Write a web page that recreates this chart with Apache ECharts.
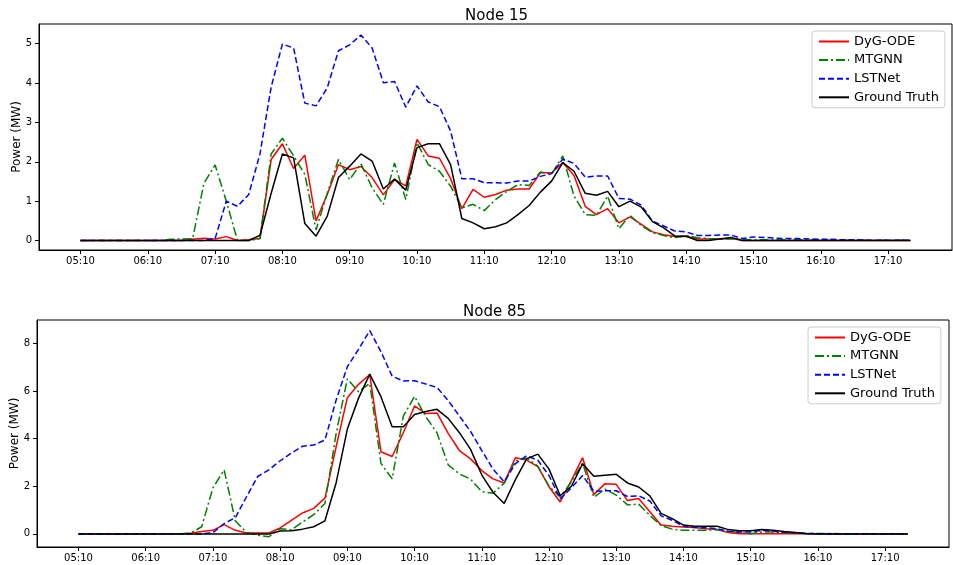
<!DOCTYPE html>
<html>
<head>
<meta charset="utf-8">
<title>Node power forecast</title>
<script src="https://cdn.jsdelivr.net/npm/echarts@6/dist/echarts.min.js"></script>
<style>
  html, body { margin: 0; padding: 0; background: #fff; }
  #chart { width: 953px; height: 565px; }
</style>
</head>
<body>
<div id="chart"></div>
<script>
// time axis, one point every 10 minutes
const times = [
  '05:10','05:20','05:30','05:40','05:50','06:00','06:10','06:20','06:30','06:40',
  '06:50','07:00','07:10','07:20','07:30','07:40','07:50','08:00','08:10','08:20',
  '08:30','08:40','08:50','09:00','09:10','09:20','09:30','09:40','09:50','10:00',
  '10:10','10:20','10:30','10:40','10:50','11:00','11:10','11:20','11:30','11:40',
  '11:50','12:00','12:10','12:20','12:30','12:40','12:50','13:00','13:10','13:20',
  '13:30','13:40','13:50','14:00','14:10','14:20','14:30','14:40','14:50','15:00',
  '15:10','15:20','15:30','15:40','15:50','16:00','16:10','16:20','16:30','16:40',
  '16:50','17:00','17:10','17:20','17:30'
]
// positions (index into times) that get a tick label
const tickIdx = [0, 6, 12, 18, 24, 30, 36, 42, 48, 54, 60, 66, 72]

const seriesNames = ['DyG-ODE', 'MTGNN', 'LSTNet', 'Ground Truth']

// Node 15
const node15DyG = [
  0, 0, 0, 0, 0, 0, 0, 0, 0, 0,
  0.03, 0.06, 0.04, 0.1, 0.0, 0.02, 0.05,
  2.06, 2.46, 1.83, 2.17, 0.5, 1.17, 1.93, 1.8, 1.88, 1.6, 1.16, 1.55, 1.39, 2.57,
  2.15, 2.09, 1.57, 0.81, 1.3, 1.1, 1.17, 1.28, 1.31, 1.31, 1.72, 1.72, 1.98, 1.65,
  0.87, 0.66, 0.81, 0.45, 0.6, 0.41, 0.22, 0.15, 0.1, 0.11, 0.04, 0.04, 0.04, 0.06,
  0, 0, 0, 0, 0, 0, 0, 0, 0, 0, 0, 0, 0, 0, 0, 0
]
const node15MTGNN = [
  0, 0, 0, 0, 0, 0, 0, 0, 0.03, 0.04,
  0.05, 1.45, 1.92, 1.0, 0.0, 0.0, 0.05,
  2.2, 2.6, 2.15, 1.68, 0.27, 1.2, 2.06, 1.55, 1.95, 1.34, 0.92, 1.97, 1.04, 2.48,
  1.93, 1.76, 1.38, 0.83, 0.92, 0.76, 1.04, 1.25, 1.42, 1.4, 1.74, 1.69, 2.15, 1.13,
  0.66, 0.64, 1.13, 0.3, 0.64, 0.38, 0.2, 0.13, 0.07, 0.13, 0.07, 0.05, 0.04, 0.04,
  0.03, 0.02, 0.02, 0.02, 0.02, 0.02, 0.02, 0.01, 0.01, 0.01, 0.01, 0.01, 0.01, 0.01, 0.01, 0.01
]
const node15LSTNet = [
  0, 0, 0, 0, 0, 0, 0, 0, 0, 0,
  0, 0, 0.05, 1.0, 0.87, 1.17, 2.2,
  3.9, 4.99, 4.89, 3.49, 3.42, 3.88, 4.82, 4.97, 5.22, 4.89, 4.01, 4.04, 3.39, 3.93,
  3.52, 3.4, 2.78, 1.57, 1.57, 1.47, 1.47, 1.46, 1.51, 1.51, 1.63, 1.7, 2.07, 1.96,
  1.61, 1.64, 1.64, 1.07, 1.05, 0.9, 0.49, 0.37, 0.24, 0.22, 0.13, 0.13, 0.14, 0.14,
  0.05, 0.09, 0.08, 0.06, 0.05, 0.05, 0.04, 0.03, 0.03, 0.02, 0.02, 0.01, 0.01, 0.01, 0.01, 0.01
]
const node15Truth = [
  0, 0, 0, 0, 0, 0, 0, 0, 0, 0,
  0, 0, 0, 0, 0, 0, 0.13,
  1.2, 2.2, 2.1, 0.43, 0.11, 0.62, 1.6, 1.89, 2.2, 2.02, 1.31, 1.56, 1.28, 2.36,
  2.46, 2.46, 1.93, 0.56, 0.45, 0.3, 0.35, 0.45, 0.66, 0.89, 1.23, 1.51, 1.98, 1.76,
  1.2, 1.15, 1.25, 0.86, 1.0, 0.85, 0.48, 0.32, 0.11, 0.11, 0, 0, 0.04, 0.08,
  0, 0, 0, 0, 0, 0, 0, 0, 0, 0, 0, 0, 0, 0, 0, 0
]

// Node 85
const node85DyG = [
  0, 0, 0, 0, 0, 0, 0, 0, 0, 0,
  0.03, 0.1, 0.15, 0.39, 0.15, 0.04, 0.04,
  0.04, 0.25, 0.57, 0.88, 1.07, 1.5, 3.66, 5.72, 6.28, 6.69, 3.45, 3.25, 4.25, 5.37,
  5.05, 5.08, 4.22, 3.5, 3.15, 2.66, 2.31, 2.14, 3.2, 3.1, 2.82, 1.98, 1.34, 2.25,
  3.2, 1.65, 2.11, 2.08, 1.4, 1.49, 0.93, 0.37, 0.32, 0.29, 0.27, 0.22, 0.18, 0.06,
  0.01, 0.01, 0.01, 0.01, 0.01, 0.01, 0.01, 0.01, 0, 0, 0, 0, 0, 0, 0, 0
]
const node85MTGNN = [
  0, 0, 0, 0, 0, 0, 0, 0, 0, 0,
  0.03, 0.3, 1.93, 2.69, 0.55, 0.06, -0.05,
  -0.12, 0.22, 0.17, 0.5, 0.81, 1.28, 4.22, 6.51, 5.97, 6.32, 2.96, 2.31, 4.95, 5.77,
  4.92, 4.24, 2.9, 2.52, 2.3, 1.77, 1.71, 2.13, 3.07, 3.18, 2.85, 2.0, 1.55, 2.19,
  2.96, 1.54, 1.88, 1.63, 1.22, 1.25, 0.78, 0.35, 0.2, 0.15, 0.15, 0.15, 0.18, 0.11,
  0.06, 0.01, 0.08, 0.08, 0.06, 0.03, 0.02, 0.02, 0.02, 0.01, 0.01, 0.01, 0.01, 0.01, 0.01, 0.01
]
const node85LSTNet = [
  0, 0, 0, 0, 0, 0, 0, 0, 0, 0,
  0, 0, 0.05, 0.43, 0.68, 1.56, 2.41,
  2.69, 3.07, 3.39, 3.68, 3.73, 3.94, 5.62, 7.02, 7.75, 8.53, 7.65, 6.62, 6.42, 6.43,
  6.29, 6.15, 5.6, 4.95, 4.3, 3.5, 2.72, 2.18, 2.95, 3.28, 3.09, 2.45, 1.47, 1.94,
  2.45, 1.79, 1.81, 1.81, 1.57, 1.6, 1.38, 0.76, 0.57, 0.32, 0.27, 0.26, 0.22, 0.11,
  0.08, 0.08, 0.15, 0.11, 0.07, 0.04, 0.02, 0.01, 0.01, 0.01, 0.01, 0.01, 0.01, 0.01, 0.01, 0.01
]
const node85Truth = [
  0, 0, 0, 0, 0, 0, 0, 0, 0, 0,
  0, 0, 0, 0, 0, 0, 0,
  0, 0.12, 0.13, 0.2, 0.3, 0.55, 2.15, 4.4, 5.7, 6.71, 5.76, 4.5, 4.5, 5.01,
  5.14, 5.23, 4.85, 4.25, 3.55, 2.47, 1.75, 1.28, 2.28, 3.15, 3.35, 2.72, 1.6, 2.0,
  2.95, 2.42, 2.46, 2.5, 2.14, 1.97, 1.6, 0.86, 0.64, 0.37, 0.32, 0.32, 0.32, 0.18,
  0.13, 0.13, 0.18, 0.15, 0.1, 0.06, 0.01, 0, 0, 0, 0, 0, 0, 0, 0, 0
]

const yTicks15 = [0, 1, 2, 3, 4, 5]
const yTicks85 = [0, 2, 4, 6, 8]

const FONT = 'DejaVu Sans'
const colors = ['#ff0000', '#008000', '#0000ff', '#000000']
const dashes = ['solid', [9, 3, 2, 3], [6, 3], 'solid']

function makeX(gridIndex) {
  return {
    gridIndex: gridIndex,
    type: 'value',
    min: -3.7,
    max: 77.7,
    splitLine: { show: false },
    axisLine: { show: true, onZero: false, lineStyle: { color: '#000', width: 1 } },
    axisTick: { show: true, customValues: tickIdx, length: 4, lineStyle: { color: '#000' } },
    axisLabel: {
      customValues: tickIdx,
      formatter: v => times[Math.round(v)],
      fontFamily: FONT,
      fontSize: 10,
      color: '#000',
      margin: 6
    }
  }
}

function makeY(gridIndex, min, max, ticks) {
  return {
    gridIndex: gridIndex,
    type: 'value',
    min: min,
    max: max,
    name: 'Power (MW)',
    nameLocation: 'middle',
    nameGap: 16,
    nameMoveOverlap: false,
    nameTextStyle: { fontFamily: FONT, fontSize: 12, color: '#000' },
    splitLine: { show: false },
    axisLine: { show: true, onZero: false, lineStyle: { color: '#000', width: 1 } },
    axisTick: { show: true, customValues: ticks, length: 4, lineStyle: { color: '#000' } },
    axisLabel: {
      customValues: ticks,
      fontFamily: FONT,
      fontSize: 10,
      color: '#000',
      margin: 7
    }
  }
}

function makeSeries(name, values, idx, k) {
  return {
    name: name,
    type: 'line',
    xAxisIndex: idx,
    yAxisIndex: idx,
    data: values.map((v, i) => [i, v]),
    symbol: 'none',
    animation: false,
    z: 2 + k,
    lineStyle: { color: colors[k], width: 1.5, type: dashes[k] },
    itemStyle: { color: colors[k] }
  }
}

function makeLegend(left, top) {
  return {
    orient: 'vertical',
    left: left,
    top: top,
    data: seriesNames,
    itemWidth: 30,
    itemHeight: 14,
    itemGap: 5.6,
    padding: [4, 6, 4, 6],
    backgroundColor: 'rgba(255,255,255,0.8)',
    borderColor: '#cccccc',
    borderWidth: 1,
    borderRadius: 3,
    selectedMode: false,
    // hide the symbol, keep only the line sample
    itemStyle: { opacity: 0, borderWidth: 0 },
    textStyle: { fontFamily: FONT, fontSize: 13, color: '#000' }
  }
}

const chart = echarts.init(document.getElementById('chart'), null, { renderer: 'canvas' })

const titleStyle = { fontFamily: FONT, fontSize: 15, fontWeight: 'normal', color: '#000' }

const option = {
  backgroundColor: '#fff',
  animation: false,
  title: [
    { text: 'Node 15', left: 460, top: 4, textStyle: titleStyle },
    { text: 'Node 85', left: 458, top: 300, textStyle: titleStyle }
  ],
  legend: [makeLegend(812, 31), makeLegend(808, 327)],
  grid: [
    { left: 39, top: 24, width: 913, height: 226, show: true, borderColor: '#000', borderWidth: 1, outerBoundsMode: 'none', containLabel: false },
    { left: 37, top: 320, width: 912, height: 227, show: true, borderColor: '#000', borderWidth: 1, outerBoundsMode: 'none', containLabel: false }
  ],
  xAxis: [makeX(0), makeX(1)],
  yAxis: [makeY(0, -0.24, 5.5, yTicks15), makeY(1, -0.55, 8.98, yTicks85)],
  series: [
    makeSeries('DyG-ODE', node15DyG, 0, 0),
    makeSeries('MTGNN', node15MTGNN, 0, 1),
    makeSeries('LSTNet', node15LSTNet, 0, 2),
    makeSeries('Ground Truth', node15Truth, 0, 3),
    makeSeries('DyG-ODE', node85DyG, 1, 0),
    makeSeries('MTGNN', node85MTGNN, 1, 1),
    makeSeries('LSTNet', node85LSTNet, 1, 2),
    makeSeries('Ground Truth', node85Truth, 1, 3)
  ]
}

chart.setOption(option)
</script>
</body>
</html>
